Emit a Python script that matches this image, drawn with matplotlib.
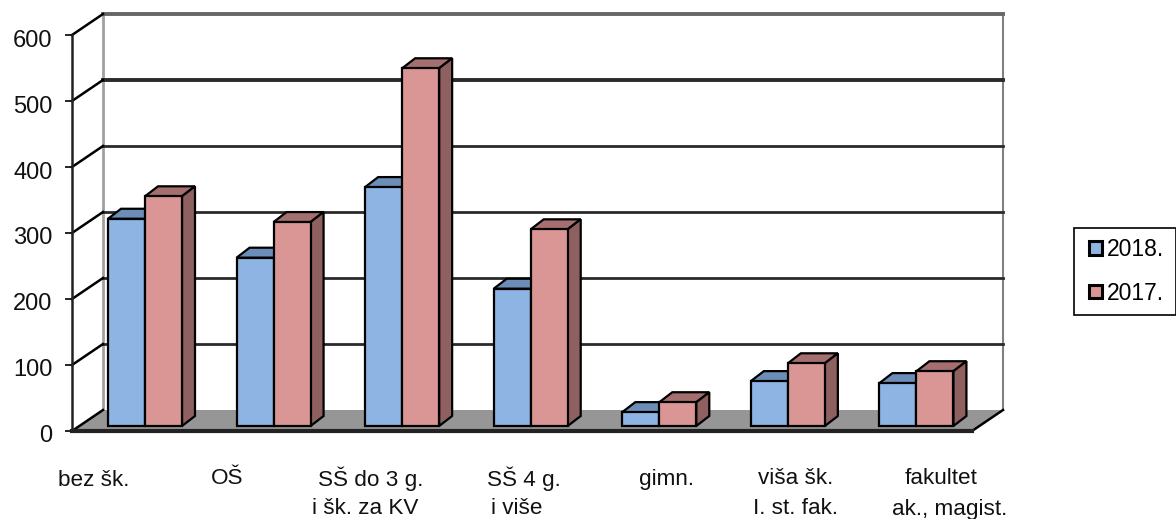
import matplotlib

matplotlib.use("Agg")
import matplotlib.pyplot as plt
from matplotlib.patches import Patch, Polygon, Rectangle
from matplotlib.transforms import Affine2D

plt.rcParams["font.family"] = ["Liberation Sans", "DejaVu Sans"]

CATEGORIES = ["bez šk.", "OŠ", "SŠ do 3 g.", "SŠ 4 g.", "gimn.", "viša šk.", "fakultet"]
CATEGORIES_2ND = ["", "", "i šk. za KV", "i više", "", "I. st. fak.", "ak., magist."]
VALUES_2018 = [314, 255, 362, 208, 21, 68, 65]
VALUES_2017 = [348, 309, 542, 298, 36, 95, 83]
Y_TICKS = [0, 100, 200, 300, 400, 500, 600]

WIDTH, HEIGHT = 1176, 519
LEFT, RIGHT = 72, 972
BOTTOM, TOP = 431, 35
PX_X = len(CATEGORIES) / (RIGHT - LEFT)
PX_Y = 600 / (BOTTOM - TOP)

# 3D look of the old Excel chart: the wall sits behind the axis by a fixed offset
WALL_DX, WALL_DY = 31 * PX_X, 21 * PX_Y
BAR_DX, BAR_DY = 13 * PX_X, 10 * PX_Y
BAR_W = 37 * PX_X
BAR_START = 36 * PX_X
BAR_BASE = 5 * PX_Y

FRONT = {"2018.": "#8DB4E2", "2017.": "#D99694"}
TOPS = {"2018.": "#6C8DB8", "2017.": "#A66F6F"}
SIDES = {"2018.": "#5F7DA6", "2017.": "#8F6060"}

# the labels were placed by hand in the original, so each row has its own centres (px)
LABEL_X = [94, 227, 371, 524, 667, 796, 941]
LABEL_Y = [481, 478, 479, 479, 480, 478, 478]
LABEL_2ND_X = [0, 0, 365, 517, 0, 796, 950]
LABEL_2ND_Y = 509


def draw_walls(ax, n_cat):
    floor = [(0, 0), (n_cat, 0), (n_cat + WALL_DX, WALL_DY), (WALL_DX, WALL_DY)]
    ax.add_patch(Polygon(floor, closed=True, fc="#969696", ec="none", zorder=1, clip_on=False))
    ax.plot([WALL_DX, WALL_DX], [WALL_DY, 600 + WALL_DY], color="#A0A0A0", lw=2, zorder=1, clip_on=False)
    ax.plot([n_cat + WALL_DX] * 2, [WALL_DY, 600 + WALL_DY], color="#808080", lw=1.5, zorder=1, clip_on=False)
    for tick in Y_TICKS:
        ax.plot([0, WALL_DX], [tick, tick + WALL_DY], color="black", lw=1.8, zorder=2, clip_on=False)
        if tick > 0:
            lw = 2.8 if tick in (500, 600) else 2.0
            color = "#666666" if tick == 600 else "#2A2A2A"
            ax.plot([WALL_DX, n_cat + WALL_DX], [tick + WALL_DY] * 2, color=color, lw=lw, zorder=1.5, clip_on=False)
    ax.plot([n_cat, n_cat + WALL_DX], [0, WALL_DY], color="black", lw=1.8, zorder=2, clip_on=False)


def draw_bar(ax, x, value, name, z):
    y0 = BAR_BASE
    y1 = BAR_BASE + value
    x1 = x + BAR_W
    top = [(x, y1), (x1, y1), (x1 + BAR_DX, y1 + BAR_DY), (x + BAR_DX, y1 + BAR_DY)]
    side = [(x1, y0), (x1 + BAR_DX, y0 + BAR_DY), (x1 + BAR_DX, y1 + BAR_DY), (x1, y1)]
    ax.add_patch(Polygon(top, closed=True, fc=TOPS[name], ec="black", lw=1.6, zorder=z, clip_on=False))
    ax.add_patch(Polygon(side, closed=True, fc=SIDES[name], ec="black", lw=1.6, zorder=z, clip_on=False))
    ax.bar(x, value, BAR_W, bottom=y0, align="edge", color=FRONT[name], edgecolor="black", lw=1.6, zorder=z + 0.1)


def px_label(ax, px, py, text):
    ax.text(
        (px - LEFT) * PX_X, (BOTTOM - py) * PX_Y, text,
        ha="center", va="center", fontsize=16.2, color="#111111", clip_on=False,
    )


def main():
    fig = plt.figure(figsize=(WIDTH / 100, HEIGHT / 100), dpi=100)
    ax = fig.add_axes(
        [LEFT / WIDTH, 1 - BOTTOM / HEIGHT, (RIGHT - LEFT) / WIDTH, (BOTTOM - TOP) / HEIGHT]
    )
    n_cat = len(CATEGORIES)
    ax.set_xlim(0, n_cat)
    ax.set_ylim(0, 600)
    ax.patch.set_visible(False)

    draw_walls(ax, n_cat)
    for i in range(n_cat):
        x = i + BAR_START
        draw_bar(ax, x, VALUES_2018[i], "2018.", 3 + i)
        draw_bar(ax, x + BAR_W, VALUES_2017[i], "2017.", 3.5 + i)

    for spine in ("top", "right"):
        ax.spines[spine].set_visible(False)
    ax.spines["left"].set_linewidth(1.8)
    ax.spines["bottom"].set_linewidth(3)
    ax.spines["left"].set_color("#222222")
    ax.spines["bottom"].set_color("#222222")
    ax.spines["left"].set_zorder(20)
    ax.spines["bottom"].set_zorder(20)

    ax.set_xticks([])
    ax.set_yticks(Y_TICKS)
    ax.tick_params(axis="y", labelsize=17, length=5, width=1.2, pad=9, labelcolor="#111111")
    # reference labels sit a couple of pixels under their ticks
    for tick_label in ax.get_yticklabels():
        tick_label.set_transform(tick_label.get_transform() + Affine2D().translate(0, -3))

    for i in range(n_cat):
        px_label(ax, LABEL_X[i], LABEL_Y[i], CATEGORIES[i])
        if CATEGORIES_2ND[i]:
            px_label(ax, LABEL_2ND_X[i], LABEL_2ND_Y, CATEGORIES_2ND[i])

    # frame drawn separately so the entries can be placed inside it freely
    fig.add_artist(
        Rectangle(
            (1074 / WIDTH, 1 - 315 / HEIGHT), 102 / WIDTH, 87 / HEIGHT,
            transform=fig.transFigure, fc="white", ec="black", lw=1.2,
        )
    )
    handles = [Patch(fc=FRONT[k], ec="black", lw=2.2) for k in ("2018.", "2017.")]
    fig.legend(
        handles, ["2018.", "2017."],
        loc="upper left", bbox_to_anchor=(1089 / WIDTH, 1 - 238 / HEIGHT),
        borderaxespad=0, borderpad=0, fontsize=16.5, frameon=False,
        handlelength=0.55, handleheight=0.55, handletextpad=0.22, labelspacing=0.9,
    )

    fig.savefig("out.png", dpi=100)


if __name__ == "__main__":
    main()
